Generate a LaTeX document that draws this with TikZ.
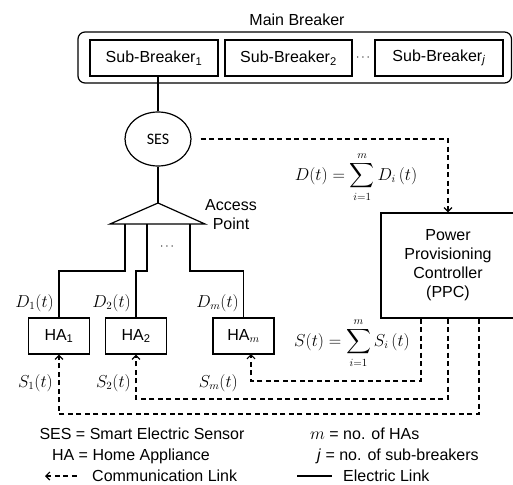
\documentclass[tikz,border=0pt]{standalone}
\usepackage{exscale}
\usepackage[no-math]{fontspec}
\setmainfont{Liberation Sans}
\newfontfamily\calib{Carlito}
\usetikzlibrary{arrows.meta,calc,shapes.geometric}
\begin{document}
\begin{tikzpicture}[x=1pt,y=-1pt,
  every node/.style={font=\fontsize{16}{19}\selectfont, inner sep=0pt},
  box/.style={draw, line width=1.2pt, minimum height=36pt},
  wire/.style={line width=1.2pt},
  comm/.style={line width=1.2pt, dash pattern=on 5pt off 3.5pt},
  dots/.style={font=\fontsize{13}{15}\selectfont},
  tip/.style={-{Straight Barb[length=4pt,width=8pt,line width=1.2pt]}},
  tipl/.style={{Straight Barb[length=4pt,width=8pt,line width=1.2pt]}-}]
\useasboundingbox (0,0) rectangle (513,484);
\clip (0,0) rectangle (513,484);
% main breaker
\node (mbt) at (297,20) {Main Breaker};
\node[draw, line width=1.2pt, rounded corners=7pt, minimum width=433.5pt, minimum height=51pt] (mb) at (294.75,57.5) {};
\node[box, minimum width=128pt] (sb1) at (154,58) {Sub-Breaker\textsubscript{1}};
\node[box, minimum width=127pt] (sb2) at (288.5,58) {Sub-Breaker\textsubscript{2}};
\node[dots] (sbd) at (363,58) {$\cdots$};
\node[box, minimum width=128pt] (sbj) at (439,58) {Sub-Breaker\textsubscript{\textit{j}}};
% SES
\node[draw, line width=1.2pt, ellipse, minimum width=66pt, minimum height=54pt, font=\calib\fontsize{16}{19}\selectfont] (ses) at (158,139) {SES};
\draw[wire] (ses.north) -- (ses.north |- sb1.south);
% access point
\coordinate (apex) at (158,203);
\coordinate (bl) at (110,224);
\coordinate (br) at (205,224);
\draw[wire, line join=miter] (apex) -- (bl) -- (br) -- cycle;
\draw[wire] (ses.south) -- (apex);
\node[align=center] (apt) at (231,215) {Access\\Point};
\coordinate (ap1) at (125,224);
\coordinate (ap2) at (147,224);
\coordinate (ap3) at (190,224);
\coordinate (lvl) at (0,271);
\node[dots] (apd) at (167,247) {$\cdots$};
% HAs
\node[box, minimum width=61pt] (ha1) at (59,336) {HA\textsubscript{1}};
\node[box, minimum width=61pt] (ha2) at (136,336) {HA\textsubscript{2}};
\node[box, minimum width=61pt] (ham) at (243.5,336) {HA\textsubscript{$m$}};
\draw[wire] (ap1) -- (ap1 |- lvl) -| (ha1.north);
\draw[wire] (ap2) -- (ap2 |- lvl) -| (ha2.north);
\draw[wire] (ap3) -- (ap3 |- lvl) -| (ham.north);
\node[anchor=east] (d1) at (54,303) {$D_1(t)$};
\node[anchor=east] (d2) at (131,303) {$D_2(t)$};
\node[anchor=east] (dm) at (239,303) {$D_m(t)$};
% PPC
\node[draw, line width=1.2pt, minimum width=134pt, minimum height=105pt, align=center] (ppc) at (448,265.5) {Power\\Provisioning\\Controller\\(PPC)};
\node (dsum) at (356,177) {$\displaystyle D(t)=\sum_{i=1}^{m} D_i\,(t)$};
\node (ssum) at (352,343) {$\displaystyle S(t)=\sum_{i=1}^{m} S_i\,(t)$};
\draw[comm, tip] ([xshift=9pt]ses.east) -| (ppc.north);
% communication links
\coordinate (k1) at (421,381);
\coordinate (k2) at (448,399);
\coordinate (k3) at (479,414);
\coordinate (hamin) at (251,354);
\draw[comm, tip] (ppc.south -| k1) -- (k1) -| (hamin);
\draw[comm, tip] (ppc.south -| k2) -- (k2) -| (ha2.south);
\draw[comm, tip] (ppc.south -| k3) -- (k3) -| (ha1.south);
\node[anchor=east] (s1) at (53,383) {$S_1(t)$};
\node[anchor=east] (s2) at (131,383) {$S_2(t)$};
\node[anchor=east] (sm) at (238,383) {$S_m(t)$};
% legend
\node (l1) at (142,434) {SES = Smart Electric Sensor};
\node (l2) at (131,456) {HA = Home Appliance};
\coordinate (la1) at (45,476);
\coordinate (la2) at (77,476);
\draw[comm, tipl] (la1) -- (la2);
\node[anchor=west] (l3) at (92,476) {Communication Link};
\node[anchor=west] (l4) at (310,434) {$m$ = no. of HAs};
\node[anchor=west] (l5) at (317,456) {\textit{j} = no. of sub-breakers};
\coordinate (le1) at (297,476);
\coordinate (le2) at (332,476);
\draw[wire] (le1) -- (le2);
\node[anchor=west] (l6) at (343,476) {Electric Link};
\end{tikzpicture}
\end{document}
